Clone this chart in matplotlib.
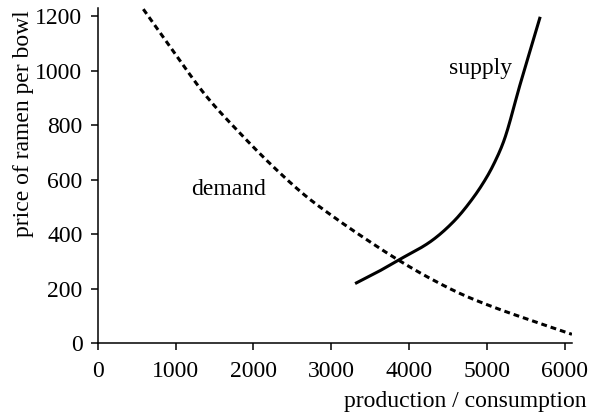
import matplotlib
matplotlib.use("Agg")
import matplotlib.pyplot as plt
import numpy as np

plt.rcParams['font.family'] = ['Liberation Serif', 'DejaVu Serif']

demand_x = [586, 972, 1401, 1829, 2257, 2686, 3028, 3414, 3864, 4271, 4699, 5129, 5557, 6093]
demand_y = [1225, 1070, 904, 770, 647, 537, 464, 388, 305, 238, 177, 128, 85, 33]

supply_x = [3307, 3600, 3864, 4271, 4571, 4828, 5000, 5085, 5213, 5428, 5685]
supply_y = [219, 262, 305, 372, 446, 535, 610, 655, 738, 950, 1197]

xticks = [0, 1000, 2000, 3000, 4000, 5000, 6000]
yticks = [0, 200, 400, 600, 800, 1000, 1200]


def pchip(xs, ys, n=400):
    x = np.asarray(xs, float)
    y = np.asarray(ys, float)
    h = np.diff(x)
    d = np.diff(y) / h
    m = np.zeros_like(y)
    for k in range(1, len(x) - 1):
        if d[k - 1] * d[k] > 0:
            w1 = 2 * h[k] + h[k - 1]
            w2 = h[k] + 2 * h[k - 1]
            m[k] = (w1 + w2) / (w1 / d[k - 1] + w2 / d[k])
    m[0] = d[0]
    m[-1] = d[-1]
    xn = np.linspace(x[0], x[-1], n)
    idx = np.clip(np.searchsorted(x, xn) - 1, 0, len(x) - 2)
    t = (xn - x[idx]) / h[idx]
    h00 = 2 * t**3 - 3 * t**2 + 1
    h10 = t**3 - 2 * t**2 + t
    h01 = -2 * t**3 + 3 * t**2
    h11 = t**3 - t**2
    yn = h00 * y[idx] + h10 * h[idx] * m[idx] + h01 * y[idx + 1] + h11 * h[idx] * m[idx + 1]
    return xn, yn


fig = plt.figure(figsize=(5.9, 4.17), dpi=100)
ax = fig.add_axes([0.1656, 0.1767, 0.969 - 0.1656, 0.980 - 0.1767])

dx, dy = pchip(demand_x, demand_y)
sx, sy = pchip(supply_x, supply_y)

ax.plot(dx, dy, color='black', lw=2.2, linestyle=(0, (1.9, 1.3)), dash_capstyle='butt')
ax.plot(sx, sy, color='black', lw=2.2, solid_capstyle='butt')

ax.text(4920, 987, 'supply', ha='center', va='baseline', fontsize=17)
ax.text(1679, 544, 'demand', ha='center', va='baseline', fontsize=17)

ax.set_xlim(0, 6090)
ax.set_ylim(0, 1228)
ax.set_xticks(xticks)
ax.set_yticks(yticks)
ax.tick_params(axis='both', direction='out', length=5, width=1.1, labelsize=17, color='black')
ax.tick_params(axis='x', pad=8)
ax.tick_params(axis='y', pad=6)
for s in ['top', 'right']:
    ax.spines[s].set_visible(False)
for s in ['left', 'bottom']:
    ax.spines[s].set_linewidth(1.1)

ax.set_xlabel('production / consumption', fontsize=17, ha='right', va='baseline')
ax.xaxis.set_label_coords(1.032, -0.189, transform=ax.transAxes)
ax.set_ylabel('price of ramen per bowl', fontsize=17, ha='right', va='center')
ax.yaxis.set_label_coords(-0.1576, 0.995, transform=ax.transAxes)

fig.savefig('out.png', dpi=100)
